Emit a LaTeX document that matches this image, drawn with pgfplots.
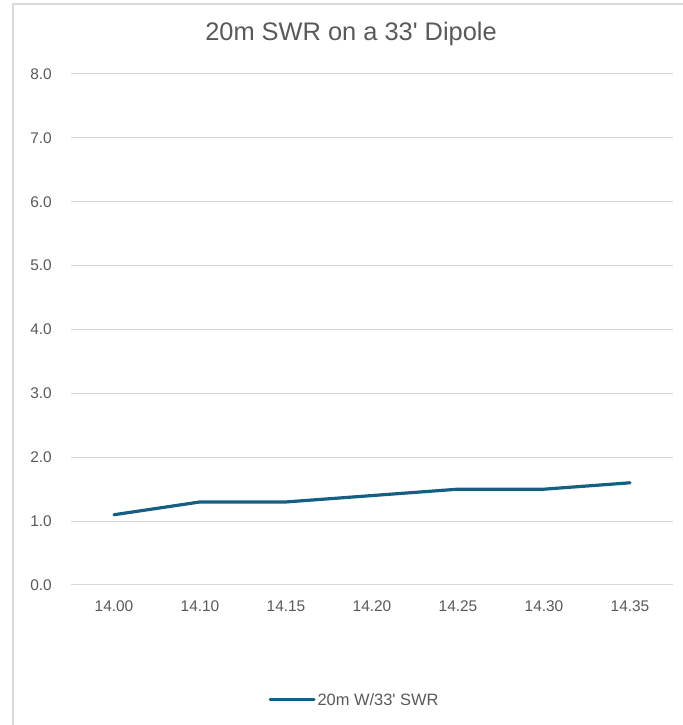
\documentclass[border=0pt]{standalone}
\usepackage{pgfplots}
\pgfplotsset{compat=1.18}
\usepackage{fontspec}
\setmainfont{Liberation Sans}
\newfontfamily\lib{Liberation Sans}
\definecolor{swr}{HTML}{156082}
\definecolor{txt}{HTML}{595959}
\definecolor{grd}{HTML}{D9D9D9}
\begin{document}
\begin{tikzpicture}[x=1bp,y=1bp,font=\lib]
\path[use as bounding box] (0,0) rectangle (683,725);
\draw[grd, line width=1.2bp] (13,0) -- (13,721) -- (683,721);
\node[text=txt, font=\lib\fontsize{25.5}{30}\selectfont, anchor=base] at (351,684) {20m SWR on a 33' Dipole};
\begin{axis}[at={(71bp,140bp)}, anchor=south west, scale only axis,
  width=602bp, height=511bp,
  xmin=-0.5, xmax=6.5, ymin=0, ymax=8,
  xtick={0,...,6}, xticklabels={14.00,14.10,14.15,14.20,14.25,14.30,14.35},
  ytick={0,1,...,8}, ymajorgrids, grid style={grd, line width=1bp},
  axis line style={draw=none}, major tick length=0pt,
  /pgf/number format/assume math mode=true,
  yticklabel={\pgfmathprintnumber[fixed,fixed zerofill,precision=1]{\tick}},
  ticklabel style={font=\lib\fontsize{15.5}{18}\selectfont, text=txt, inner sep=0pt},
  yticklabel style={anchor=east, xshift=-19bp},
  xticklabel style={anchor=north, yshift=-15.5bp},
  legend style={at={(axis description cs:0.471,-0.225)}, anchor=center, draw=none,
    font=\lib\fontsize{16.5}{20}\selectfont, text=txt, fill=none},
  legend cell align=left,
  legend image code/.code={\draw[#1, line width=3bp, line cap=round] (0bp,0bp) -- (44bp,0bp);},
]
\addplot[swr, line width=3.2bp, line join=round, line cap=round] coordinates {(0,1.1) (1,1.3) (2,1.3) (3,1.4) (4,1.5) (5,1.5) (6,1.6)};
\legend{20m W/33' SWR}
\end{axis}
\end{tikzpicture}
\end{document}
